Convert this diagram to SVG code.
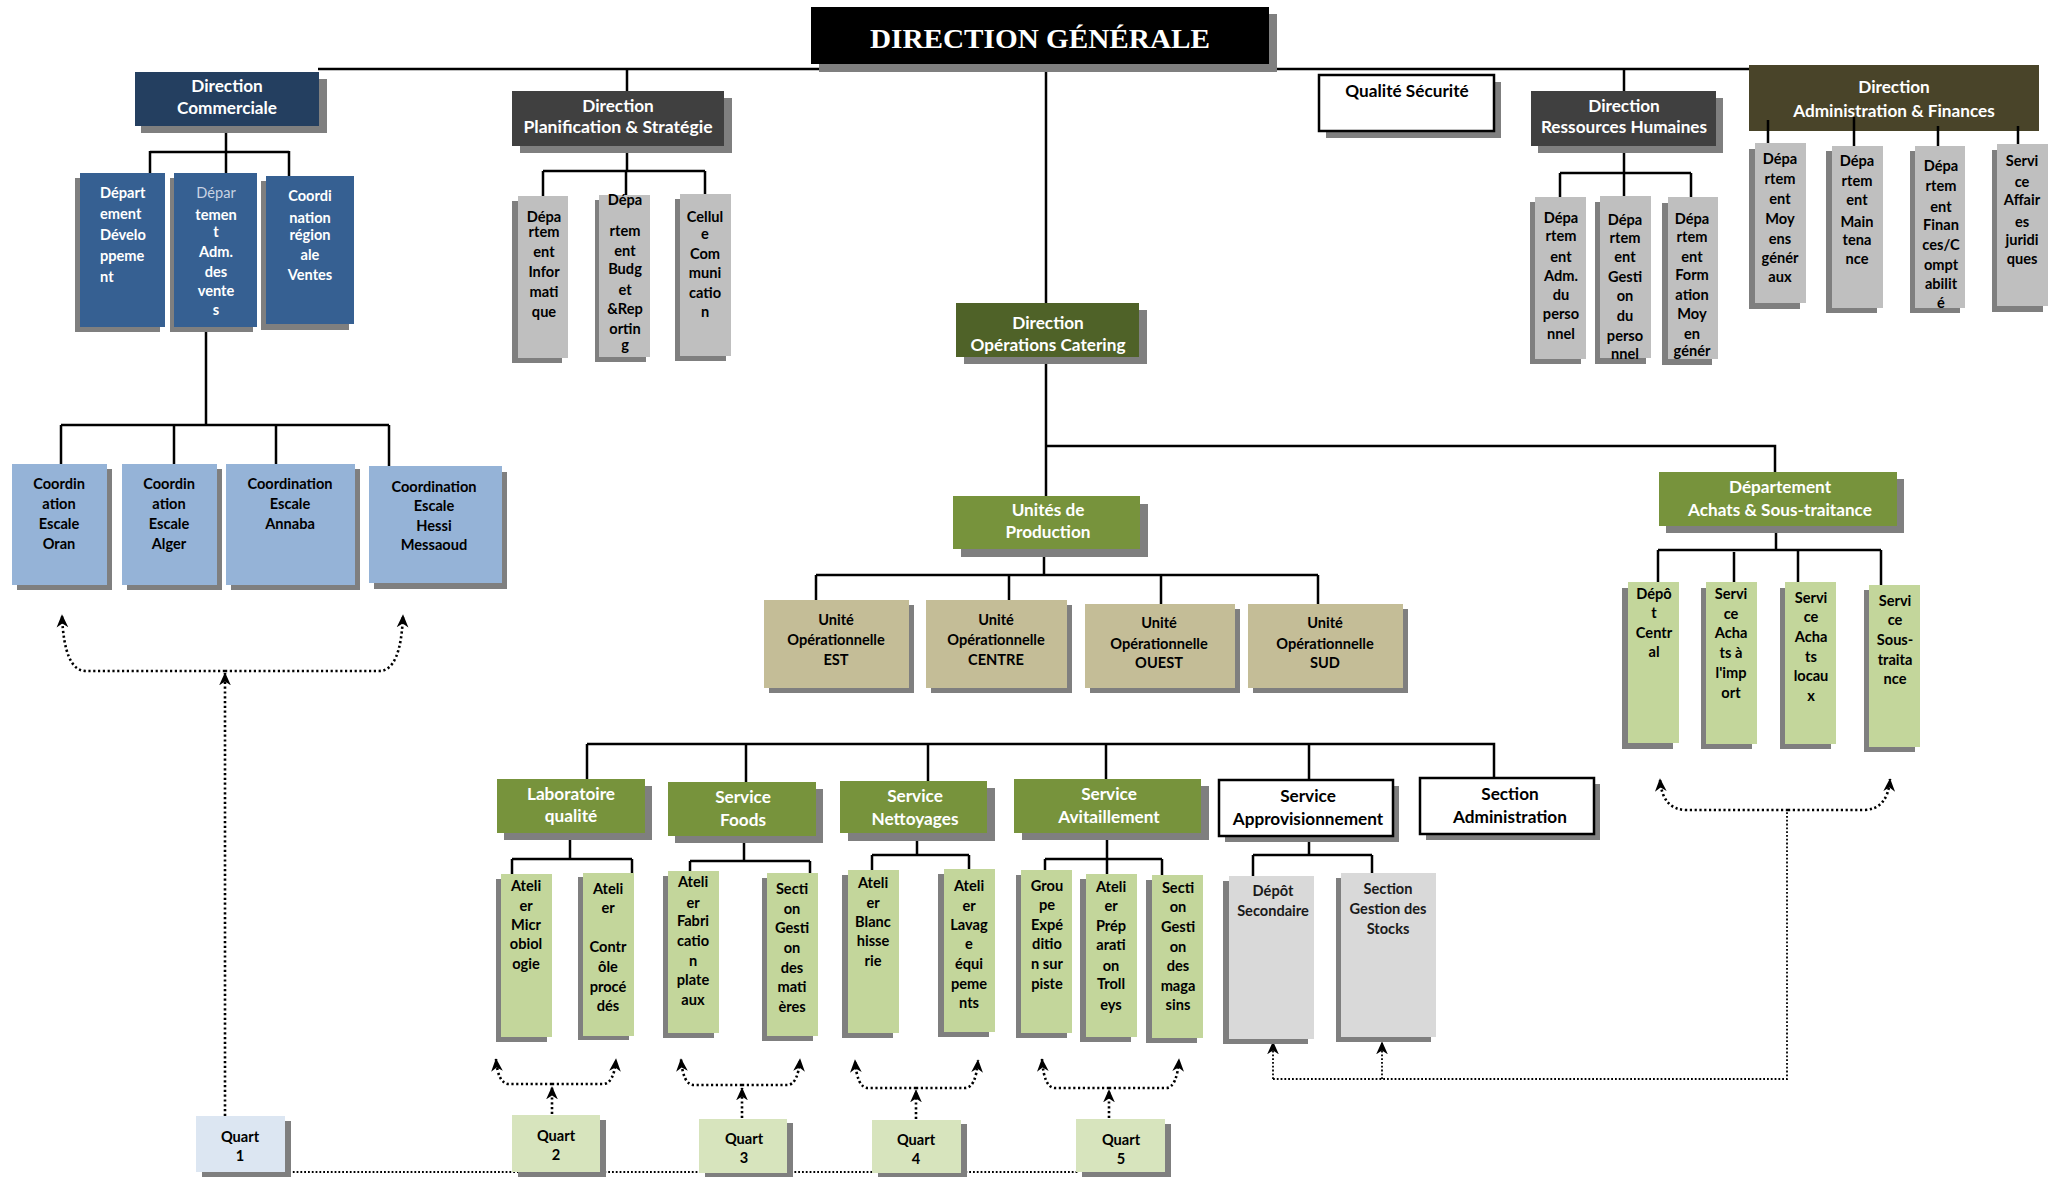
<svg xmlns="http://www.w3.org/2000/svg" width="2055" height="1177" viewBox="0 0 2055 1177">
<defs>
<style>
.ln{fill:none;stroke:#000;stroke-width:2.5}
.dt{fill:none;stroke:#000;stroke-width:2.6;stroke-dasharray:2.2 2.6}
.dt2{fill:none;stroke:#000;stroke-width:1.8;stroke-dasharray:1.8 2}
.sh{fill:#7f7f7f}
.tx{font-family:Lato,'Open Sans','Liberation Sans',sans-serif;font-weight:700;text-anchor:middle}
.f14{font-size:14.6px}
.f17{font-size:17.2px}
.wt{fill:#fff}
.bk{fill:#000}
.navy{fill:#243F60}.blue{fill:#366092}.lblue{fill:#95B3D7}.dgray{fill:#404040}.gray{fill:#BFBFBF}
.olive{fill:#4F6228}.green{fill:#77933C}.tan{fill:#C4BD97}.lgreen{fill:#C3D69B}.lgray{fill:#D9D9D9}
.q1{fill:#DCE6F2}.q{fill:#D7E4BD}.brown{fill:#494429}
.box{fill:#fff;stroke:#000;stroke-width:2.5}
</style>
<marker id="ah" viewBox="0 0 10 10" refX="9.5" refY="5" markerWidth="13" markerHeight="13" markerUnits="userSpaceOnUse" orient="auto">
<path d="M0,0.5 L10,5 L0,9.5 L3,5 Z" fill="#000"/>
</marker>
</defs>
<rect width="2055" height="1177" fill="#fff"/>

<!-- connectors -->
<g id="connectors">
<path class="ln" d="M318,69 H1749"/>
<!-- commerciale -->
<path class="ln" d="M226,126 V151 M150,152 H289 M150,151 V173 M226,151 V173 M289,151 V176"/>
<path class="ln" d="M206,327 V425 M61,425 H389 M61,425 V464 M174,425 V464 M276,425 V464 M389,425 V466"/>
<!-- planification -->
<path class="ln" d="M627,69 V91 M627,146 V171 M543,171 H705 M543,171 V196 M626,171 V195 M705,171 V194"/>
<!-- operations -->
<path class="ln" d="M1046,69 V303 M1046,357 V496 M1046,446 H1775 V472"/>
<path class="ln" d="M1044,549 V575 M816,575 H1318 M816,575 V600 M1009,575 V600 M1161,575 V604 M1318,575 V604"/>
<path class="ln" d="M1776,526 V550 M1658,550 H1881 M1658,550 V582 M1734,552 V582 M1798,550 V582 M1881,550 V585"/>
<!-- RH -->
<path class="ln" d="M1624,69 V91 M1624,146 V173 M1560,173 H1691 M1560,173 V197 M1624,173 V196 M1691,173 V197"/>
<!-- administration & finances -->
<path class="ln" d="M1768,120 V144 M1854,117 V147 M1938,126 V152 M2018,126 V144"/>
<!-- services -->
<path class="ln" d="M587,744 H1494 V778 M587,744 V779 M746,744 V782 M928,744 V781 M1106,744 V779 M1309,744 V780"/>
<path class="ln" d="M570,833 V859 M512,859 H632 M512,859 V874 M632,859 V873"/>
<path class="ln" d="M744,836 V861 M690,861 H810 M690,861 V871 M810,861 V873"/>
<path class="ln" d="M917,833 V855 M872,855 H969 M872,855 V870 M969,855 V869"/>
<path class="ln" d="M1107,833 V859 M1045,859 H1162 M1045,859 V870 M1107,859 V874 M1162,859 V875"/>
<path class="ln" d="M1309,836 V855 M1253,855 H1372 M1253,855 V876 M1372,855 V873"/>

<!-- dotted links: quart 1 to coordinations -->
<path class="dt" d="M225,671 H86 Q64,671 62,615" marker-end="url(#ah)"/>
<path class="dt" d="M225,671 H379 Q401,671 403,615" marker-end="url(#ah)"/>
<path class="dt" d="M225,1116 V673" marker-end="url(#ah)"/>
<!-- quart 2 -->
<path class="dt" d="M552,1084 H509 Q498,1084 496,1059" marker-end="url(#ah)"/>
<path class="dt" d="M552,1084 H603 Q614,1084 616,1059" marker-end="url(#ah)"/>
<path class="dt" d="M552,1114 V1087" marker-end="url(#ah)"/>
<!-- quart 3 -->
<path class="dt" d="M742,1085 H694 Q683,1085 681,1059" marker-end="url(#ah)"/>
<path class="dt" d="M742,1085 H787 Q798,1085 800,1059" marker-end="url(#ah)"/>
<path class="dt" d="M742,1118 V1088" marker-end="url(#ah)"/>
<!-- quart 4 -->
<path class="dt" d="M916,1088 H868 Q857,1088 855,1060" marker-end="url(#ah)"/>
<path class="dt" d="M916,1088 H965 Q976,1088 978,1060" marker-end="url(#ah)"/>
<path class="dt" d="M916,1119 V1090" marker-end="url(#ah)"/>
<!-- quart 5 -->
<path class="dt" d="M1109,1088 H1055 Q1044,1088 1042,1059" marker-end="url(#ah)"/>
<path class="dt" d="M1109,1088 H1166 Q1177,1088 1179,1059" marker-end="url(#ah)"/>
<path class="dt" d="M1109,1118 V1090" marker-end="url(#ah)"/>
<!-- quart line -->
<path class="dt2" d="M289,1172 H1079"/>
<!-- approvisionnement to achats -->
<path class="dt2" d="M1273,1079 H1787 V810"/>
<path class="dt2" d="M1273,1079 V1042" marker-end="url(#ah)"/>
<path class="dt2" d="M1382,1079 V1042" marker-end="url(#ah)"/>
<path class="dt" d="M1788,810 H1687 Q1662,810 1660,779" marker-end="url(#ah)"/>
<path class="dt" d="M1788,810 H1863 Q1888,810 1890,779" marker-end="url(#ah)"/>
</g>

<!-- Direction générale -->
<g id="direction-generale">
<rect class="sh" x="819" y="14" width="458" height="58"/>
<rect x="811" y="7" width="458" height="57" fill="#000"/>
<text x="1040" y="48" font-family="'Liberation Serif',serif" font-weight="700" font-size="28" fill="#fff" text-anchor="middle" textLength="340" lengthAdjust="spacingAndGlyphs">DIRECTION GÉNÉRALE</text>
</g>

<!-- Direction Commerciale -->
<g id="direction-commerciale">
<rect class="sh" x="141" y="79" width="186" height="54"/>
<rect class="navy" x="135" y="72" width="184" height="54"/>
<text class="tx f17 wt"><tspan x="227" y="92">Direction</tspan><tspan x="227" y="114">Commerciale</tspan></text>
</g>
<g id="dept-developpement">
<rect class="sh" x="75" y="178" width="85" height="154"/>
<rect class="blue" x="80" y="173" width="85" height="154"/>
<text class="tx f14 wt" style="text-anchor:start"><tspan x="100" y="198">Départ</tspan><tspan x="100" y="219">ement</tspan><tspan x="100" y="240">Dévelo</tspan><tspan x="100" y="261">ppeme</tspan><tspan x="100" y="282">nt</tspan></text>
</g>
<g id="dept-adm-ventes">
<rect class="sh" x="170" y="178" width="83" height="154"/>
<rect class="blue" x="174" y="173" width="83" height="154"/>
<text class="tx f14 wt"><tspan x="216" y="198" fill="#C9D3E3" font-weight="400">Dépar</tspan><tspan x="216" y="220">temen</tspan><tspan x="216" y="237">t</tspan><tspan x="216" y="257">Adm.</tspan><tspan x="216" y="277">des</tspan><tspan x="216" y="296">vente</tspan><tspan x="216" y="315">s</tspan></text>
</g>
<g id="coord-regionale-ventes">
<rect class="sh" x="261" y="181" width="88" height="149"/>
<rect class="blue" x="266" y="176" width="88" height="148"/>
<text class="tx f14 wt"><tspan x="310" y="201">Coordi</tspan><tspan x="310" y="223">nation</tspan><tspan x="310" y="240">région</tspan><tspan x="310" y="260">ale</tspan><tspan x="310" y="280">Ventes</tspan></text>
</g>

<!-- Coordinations escales -->
<g id="escale-oran">
<rect class="sh" x="17" y="469" width="95" height="121"/>
<rect class="lblue" x="12" y="464" width="95" height="121"/>
<text class="tx f14 bk"><tspan x="59" y="489">Coordin</tspan><tspan x="59" y="509">ation</tspan><tspan x="59" y="529">Escale</tspan><tspan x="59" y="549">Oran</tspan></text>
</g>
<g id="escale-alger">
<rect class="sh" x="127" y="469" width="95" height="121"/>
<rect class="lblue" x="122" y="464" width="95" height="121"/>
<text class="tx f14 bk"><tspan x="169" y="489">Coordin</tspan><tspan x="169" y="509">ation</tspan><tspan x="169" y="529">Escale</tspan><tspan x="169" y="549">Alger</tspan></text>
</g>
<g id="escale-annaba">
<rect class="sh" x="231" y="469" width="129" height="121"/>
<rect class="lblue" x="226" y="464" width="129" height="121"/>
<text class="tx f14 bk"><tspan x="290" y="489">Coordination</tspan><tspan x="290" y="509">Escale</tspan><tspan x="290" y="529">Annaba</tspan></text>
</g>
<g id="escale-hessi-messaoud">
<rect class="sh" x="374" y="472" width="133" height="117"/>
<rect class="lblue" x="369" y="466" width="133" height="117"/>
<text class="tx f14 bk"><tspan x="434" y="492">Coordination</tspan><tspan x="434" y="511">Escale</tspan><tspan x="434" y="531">Hessi</tspan><tspan x="434" y="550">Messaoud</tspan></text>
</g>

<!-- Direction Planification & Stratégie -->
<g id="direction-planification">
<rect class="sh" x="520" y="98" width="212" height="55"/>
<rect class="dgray" x="512" y="91" width="212" height="55"/>
<text class="tx f17 wt"><tspan x="618" y="112">Direction</tspan><tspan x="618" y="133" font-size="17.6">Planification &amp; Stratégie</tspan></text>
</g>
<g id="dept-informatique">
<rect class="sh" x="512" y="201" width="50" height="162"/>
<rect class="gray" x="518" y="196" width="50" height="162"/>
<text class="tx f14 bk"><tspan x="544" y="222">Dépa</tspan><tspan x="544" y="237">rtem</tspan><tspan x="544" y="257">ent</tspan><tspan x="544" y="277">Infor</tspan><tspan x="544" y="297">mati</tspan><tspan x="544" y="317">que</tspan></text>
</g>
<g id="dept-budget">
<rect class="sh" x="595" y="200" width="51" height="162"/>
<rect class="gray" x="599" y="195" width="51" height="162"/>
<text class="tx f14 bk"><tspan x="625" y="205">Dépa</tspan><tspan x="625" y="236">rtem</tspan><tspan x="625" y="256">ent</tspan><tspan x="625" y="274">Budg</tspan><tspan x="625" y="295">et</tspan><tspan x="625" y="314">&amp;Rep</tspan><tspan x="625" y="334">ortin</tspan><tspan x="625" y="350">g</tspan></text>
</g>
<g id="cellule-communication">
<rect class="sh" x="675" y="199" width="51" height="162"/>
<rect class="gray" x="680" y="194" width="51" height="162"/>
<text class="tx f14 bk"><tspan x="705" y="222">Cellul</tspan><tspan x="705" y="239">e</tspan><tspan x="705" y="259">Com</tspan><tspan x="705" y="278">muni</tspan><tspan x="705" y="298">catio</tspan><tspan x="705" y="317">n</tspan></text>
</g>

<!-- Direction Opérations Catering -->
<g id="direction-operations">
<rect class="sh" x="964" y="310" width="183" height="54"/>
<rect class="olive" x="956" y="303" width="183" height="54"/>
<text class="tx f17 wt"><tspan x="1048" y="329">Direction</tspan><tspan x="1048" y="351">Opérations Catering</tspan></text>
</g>
<g id="unites-production">
<rect class="sh" x="961" y="504" width="187" height="53"/>
<rect class="green" x="953" y="496" width="187" height="53"/>
<text class="tx f17 wt"><tspan x="1048" y="516">Unités de</tspan><tspan x="1048" y="538">Production</tspan></text>
</g>
<g id="uo-est">
<rect class="sh" x="769" y="605" width="145" height="88"/>
<rect class="tan" x="764" y="600" width="145" height="88"/>
<text class="tx f14 bk"><tspan x="836" y="625">Unité</tspan><tspan x="836" y="645">Opérationnelle</tspan><tspan x="836" y="665">EST</tspan></text>
</g>
<g id="uo-centre">
<rect class="sh" x="931" y="605" width="141" height="88"/>
<rect class="tan" x="926" y="600" width="141" height="88"/>
<text class="tx f14 bk"><tspan x="996" y="625">Unité</tspan><tspan x="996" y="645">Opérationnelle</tspan><tspan x="996" y="665">CENTRE</tspan></text>
</g>
<g id="uo-ouest">
<rect class="sh" x="1090" y="609" width="150" height="84"/>
<rect class="tan" x="1085" y="604" width="150" height="84"/>
<text class="tx f14 bk"><tspan x="1159" y="628">Unité</tspan><tspan x="1159" y="649">Opérationnelle</tspan><tspan x="1159" y="668">OUEST</tspan></text>
</g>
<g id="uo-sud">
<rect class="sh" x="1253" y="609" width="155" height="84"/>
<rect class="tan" x="1248" y="604" width="155" height="84"/>
<text class="tx f14 bk"><tspan x="1325" y="628">Unité</tspan><tspan x="1325" y="649">Opérationnelle</tspan><tspan x="1325" y="668">SUD</tspan></text>
</g>

<!-- Département Achats & Sous-traitance -->
<g id="dept-achats">
<rect class="sh" x="1666" y="479" width="238" height="54"/>
<rect class="green" x="1659" y="472" width="238" height="54"/>
<text class="tx f17 wt"><tspan x="1780" y="493">Département</tspan><tspan x="1780" y="516">Achats &amp; Sous-traitance</tspan></text>
</g>
<g id="depot-central">
<rect class="sh" x="1622" y="588" width="51" height="161"/>
<rect class="lgreen" x="1628" y="582" width="51" height="161"/>
<text class="tx f14 bk"><tspan x="1654" y="599">Dépô</tspan><tspan x="1654" y="618">t</tspan><tspan x="1654" y="638">Centr</tspan><tspan x="1654" y="657">al</tspan></text>
</g>
<g id="achats-import">
<rect class="sh" x="1701" y="588" width="51" height="161"/>
<rect class="lgreen" x="1706" y="582" width="51" height="162"/>
<text class="tx f14 bk"><tspan x="1731" y="599">Servi</tspan><tspan x="1731" y="619">ce</tspan><tspan x="1731" y="638">Acha</tspan><tspan x="1731" y="658">ts à</tspan><tspan x="1731" y="678">l'imp</tspan><tspan x="1731" y="698">ort</tspan></text>
</g>
<g id="achats-locaux">
<rect class="sh" x="1780" y="588" width="51" height="161"/>
<rect class="lgreen" x="1785" y="582" width="51" height="162"/>
<text class="tx f14 bk"><tspan x="1811" y="603">Servi</tspan><tspan x="1811" y="622">ce</tspan><tspan x="1811" y="642">Acha</tspan><tspan x="1811" y="662">ts</tspan><tspan x="1811" y="681">locau</tspan><tspan x="1811" y="701">x</tspan></text>
</g>
<g id="sous-traitance">
<rect class="sh" x="1864" y="590" width="51" height="162"/>
<rect class="lgreen" x="1869" y="585" width="51" height="162"/>
<text class="tx f14 bk"><tspan x="1895" y="606">Servi</tspan><tspan x="1895" y="625">ce</tspan><tspan x="1895" y="645">Sous-</tspan><tspan x="1895" y="665">traita</tspan><tspan x="1895" y="684">nce</tspan></text>
</g>

<!-- Qualité Sécurité -->
<g id="qualite-securite">
<rect class="sh" x="1326" y="82" width="175" height="56"/>
<rect class="box" x="1319" y="75" width="175" height="56"/>
<text class="tx f17 bk" x="1407" y="97">Qualité Sécurité</text>
</g>

<!-- Direction Ressources Humaines -->
<g id="direction-rh">
<rect class="sh" x="1538" y="98" width="185" height="55"/>
<rect class="dgray" x="1531" y="91" width="185" height="55"/>
<text class="tx f17 wt"><tspan x="1624" y="112">Direction</tspan><tspan x="1624" y="133">Ressources Humaines</tspan></text>
</g>
<g id="dept-adm-personnel">
<rect class="sh" x="1530" y="202" width="51" height="162"/>
<rect class="gray" x="1535" y="197" width="51" height="162"/>
<text class="tx f14 bk"><tspan x="1561" y="223">Dépa</tspan><tspan x="1561" y="241">rtem</tspan><tspan x="1561" y="262">ent</tspan><tspan x="1561" y="281">Adm.</tspan><tspan x="1561" y="300">du</tspan><tspan x="1561" y="319">perso</tspan><tspan x="1561" y="339">nnel</tspan></text>
</g>
<g id="dept-gestion-personnel">
<rect class="sh" x="1595" y="202" width="51" height="162"/>
<rect class="gray" x="1600" y="196" width="51" height="162"/>
<text class="tx f14 bk"><tspan x="1625" y="225">Dépa</tspan><tspan x="1625" y="243">rtem</tspan><tspan x="1625" y="262">ent</tspan><tspan x="1625" y="282">Gesti</tspan><tspan x="1625" y="301">on</tspan><tspan x="1625" y="321">du</tspan><tspan x="1625" y="341">perso</tspan><tspan x="1625" y="359">nnel</tspan></text>
</g>
<g id="dept-formation">
<rect class="sh" x="1662" y="203" width="50" height="162"/>
<rect class="gray" x="1668" y="197" width="50" height="162"/>
<text class="tx f14 bk"><tspan x="1692" y="224">Dépa</tspan><tspan x="1692" y="242">rtem</tspan><tspan x="1692" y="262">ent</tspan><tspan x="1692" y="280">Form</tspan><tspan x="1692" y="300">ation</tspan><tspan x="1692" y="319">Moy</tspan><tspan x="1692" y="339">en</tspan><tspan x="1692" y="356">génér</tspan></text>
</g>

<!-- Direction Administration & Finances -->
<g id="direction-af">
<rect class="brown" x="1749" y="65" width="290" height="66"/>
<text class="tx f17 wt"><tspan x="1894" y="93">Direction</tspan><tspan x="1894" y="117">Administration &amp; Finances</tspan></text>
<path class="ln" d="M1768,120 V131 M1854,117 V131 M1938,126 V131 M2018,126 V131"/>
</g>
<g id="dept-moyens-generaux">
<rect class="sh" x="1749" y="149" width="51" height="160"/>
<rect class="gray" x="1755" y="143" width="51" height="160"/>
<text class="tx f14 bk"><tspan x="1780" y="164">Dépa</tspan><tspan x="1780" y="184">rtem</tspan><tspan x="1780" y="204">ent</tspan><tspan x="1780" y="224">Moy</tspan><tspan x="1780" y="244">ens</tspan><tspan x="1780" y="263">génér</tspan><tspan x="1780" y="282">aux</tspan></text>
</g>
<g id="dept-maintenance">
<rect class="sh" x="1826" y="151" width="51" height="162"/>
<rect class="gray" x="1832" y="146" width="51" height="162"/>
<text class="tx f14 bk"><tspan x="1857" y="166">Dépa</tspan><tspan x="1857" y="186">rtem</tspan><tspan x="1857" y="205">ent</tspan><tspan x="1857" y="227">Main</tspan><tspan x="1857" y="245">tena</tspan><tspan x="1857" y="264">nce</tspan></text>
</g>
<g id="dept-finances">
<rect class="sh" x="1910" y="151" width="50" height="162"/>
<rect class="gray" x="1915" y="146" width="50" height="162"/>
<text class="tx f14 bk"><tspan x="1941" y="171">Dépa</tspan><tspan x="1941" y="191">rtem</tspan><tspan x="1941" y="212">ent</tspan><tspan x="1941" y="230">Finan</tspan><tspan x="1941" y="250">ces/C</tspan><tspan x="1941" y="270">ompt</tspan><tspan x="1941" y="289">abilit</tspan><tspan x="1941" y="308">é</tspan></text>
</g>
<g id="service-juridique">
<rect class="sh" x="1992" y="150" width="51" height="162"/>
<rect class="gray" x="1997" y="144" width="51" height="162"/>
<text class="tx f14 bk"><tspan x="2022" y="166">Servi</tspan><tspan x="2022" y="187">ce</tspan><tspan x="2022" y="205">Affair</tspan><tspan x="2022" y="227">es</tspan><tspan x="2022" y="245">juridi</tspan><tspan x="2022" y="264">ques</tspan></text>
</g>

<!-- Services -->
<g id="labo-qualite">
<rect class="sh" x="504" y="786" width="148" height="54"/>
<rect class="green" x="497" y="779" width="148" height="54"/>
<text class="tx f17 wt"><tspan x="571" y="800">Laboratoire</tspan><tspan x="571" y="822">qualité</tspan></text>
</g>
<g id="atelier-microbiologie">
<rect class="sh" x="496" y="879" width="51" height="163"/>
<rect class="lgreen" x="501" y="874" width="51" height="163"/>
<text class="tx f14 bk"><tspan x="526" y="891">Ateli</tspan><tspan x="526" y="911">er</tspan><tspan x="526" y="930">Micr</tspan><tspan x="526" y="949">obiol</tspan><tspan x="526" y="969">ogie</tspan></text>
</g>
<g id="atelier-controle">
<rect class="sh" x="578" y="877" width="51" height="163"/>
<rect class="lgreen" x="583" y="873" width="51" height="163"/>
<text class="tx f14 bk"><tspan x="608" y="894">Ateli</tspan><tspan x="608" y="913">er</tspan><tspan x="608" y="952">Contr</tspan><tspan x="608" y="972">ôle</tspan><tspan x="608" y="992">procé</tspan><tspan x="608" y="1011">dés</tspan></text>
</g>

<g id="service-foods">
<rect class="sh" x="675" y="789" width="148" height="54"/>
<rect class="green" x="668" y="782" width="148" height="54"/>
<text class="tx f17 wt"><tspan x="743" y="803">Service</tspan><tspan x="743" y="826">Foods</tspan></text>
</g>
<g id="atelier-plateaux">
<rect class="sh" x="663" y="876" width="51" height="162"/>
<rect class="lgreen" x="668" y="871" width="51" height="162"/>
<text class="tx f14 bk"><tspan x="693" y="887">Ateli</tspan><tspan x="693" y="908">er</tspan><tspan x="693" y="926">Fabri</tspan><tspan x="693" y="946">catio</tspan><tspan x="693" y="966">n</tspan><tspan x="693" y="985">plate</tspan><tspan x="693" y="1005">aux</tspan></text>
</g>
<g id="section-matieres">
<rect class="sh" x="762" y="878" width="51" height="163"/>
<rect class="lgreen" x="767" y="873" width="51" height="163"/>
<text class="tx f14 bk"><tspan x="792" y="894">Secti</tspan><tspan x="792" y="914">on</tspan><tspan x="792" y="933">Gesti</tspan><tspan x="792" y="953">on</tspan><tspan x="792" y="973">des</tspan><tspan x="792" y="992">mati</tspan><tspan x="792" y="1012">ères</tspan></text>
</g>

<g id="service-nettoyages">
<rect class="sh" x="848" y="788" width="147" height="53"/>
<rect class="green" x="840" y="781" width="147" height="52"/>
<text class="tx f17 wt"><tspan x="915" y="802">Service</tspan><tspan x="915" y="825">Nettoyages</tspan></text>
</g>
<g id="atelier-blanchisserie">
<rect class="sh" x="842" y="875" width="51" height="163"/>
<rect class="lgreen" x="848" y="870" width="51" height="163"/>
<text class="tx f14 bk"><tspan x="873" y="888">Ateli</tspan><tspan x="873" y="908">er</tspan><tspan x="873" y="927">Blanc</tspan><tspan x="873" y="946">hisse</tspan><tspan x="873" y="966">rie</tspan></text>
</g>
<g id="atelier-lavage">
<rect class="sh" x="938" y="874" width="51" height="163"/>
<rect class="lgreen" x="944" y="869" width="51" height="163"/>
<text class="tx f14 bk"><tspan x="969" y="891">Ateli</tspan><tspan x="969" y="911">er</tspan><tspan x="969" y="930">Lavag</tspan><tspan x="969" y="949">e</tspan><tspan x="969" y="969">équi</tspan><tspan x="969" y="989">peme</tspan><tspan x="969" y="1008">nts</tspan></text>
</g>

<g id="service-avitaillement">
<rect class="sh" x="1022" y="786" width="187" height="54"/>
<rect class="green" x="1014" y="779" width="187" height="54"/>
<text class="tx f17 wt"><tspan x="1109" y="800">Service</tspan><tspan x="1109" y="823">Avitaillement</tspan></text>
</g>
<g id="groupe-expedition">
<rect class="sh" x="1016" y="875" width="51" height="163"/>
<rect class="lgreen" x="1021" y="870" width="51" height="163"/>
<text class="tx f14 bk"><tspan x="1047" y="891">Grou</tspan><tspan x="1047" y="910">pe</tspan><tspan x="1047" y="930">Expé</tspan><tspan x="1047" y="949">ditio</tspan><tspan x="1047" y="969">n sur</tspan><tspan x="1047" y="989">piste</tspan></text>
</g>
<g id="atelier-trolleys">
<rect class="sh" x="1080" y="879" width="51" height="163"/>
<rect class="lgreen" x="1086" y="874" width="51" height="163"/>
<text class="tx f14 bk"><tspan x="1111" y="892">Ateli</tspan><tspan x="1111" y="911">er</tspan><tspan x="1111" y="931">Prép</tspan><tspan x="1111" y="950">arati</tspan><tspan x="1111" y="971">on</tspan><tspan x="1111" y="989">Troll</tspan><tspan x="1111" y="1010">eys</tspan></text>
</g>
<g id="section-magasins">
<rect class="sh" x="1146" y="880" width="51" height="163"/>
<rect class="lgreen" x="1152" y="875" width="51" height="163"/>
<text class="tx f14 bk"><tspan x="1178" y="893">Secti</tspan><tspan x="1178" y="912">on</tspan><tspan x="1178" y="932">Gesti</tspan><tspan x="1178" y="952">on</tspan><tspan x="1178" y="971">des</tspan><tspan x="1178" y="991">maga</tspan><tspan x="1178" y="1010">sins</tspan></text>
</g>

<g id="service-approvisionnement">
<rect class="sh" x="1225" y="786" width="174" height="56"/>
<rect class="box" x="1219" y="780" width="174" height="56"/>
<text class="tx f17 bk"><tspan x="1308" y="802">Service</tspan><tspan x="1308" y="825">Approvisionnement</tspan></text>
</g>
<g id="depot-secondaire">
<rect class="sh" x="1223" y="881" width="85" height="163"/>
<rect class="lgray" x="1229" y="876" width="85" height="163"/>
<text class="tx f14" fill="#1a1a1a"><tspan x="1273" y="896">Dépôt</tspan><tspan x="1273" y="916">Secondaire</tspan></text>
</g>
<g id="section-stocks">
<rect class="sh" x="1336" y="878" width="95" height="164"/>
<rect class="lgray" x="1341" y="873" width="95" height="164"/>
<text class="tx f14" fill="#1a1a1a"><tspan x="1388" y="894">Section</tspan><tspan x="1388" y="914">Gestion des</tspan><tspan x="1388" y="934">Stocks</tspan></text>
</g>

<g id="section-administration">
<rect class="sh" x="1426" y="784" width="174" height="56"/>
<rect class="box" x="1420" y="778" width="174" height="56"/>
<text class="tx f17 bk"><tspan x="1510" y="800">Section</tspan><tspan x="1510" y="823">Administration</tspan></text>
</g>

<!-- Quarts -->
<g id="quart-1">
<rect class="sh" x="202" y="1121" width="89" height="56"/>
<rect class="q1" x="196" y="1116" width="89" height="56"/>
<text class="tx f14 bk"><tspan x="240" y="1142">Quart</tspan><tspan x="240" y="1161">1</tspan></text>
</g>
<g id="quart-2">
<rect class="sh" x="518" y="1120" width="88" height="57"/>
<rect class="q" x="512" y="1115" width="88" height="57"/>
<text class="tx f14 bk"><tspan x="556" y="1141">Quart</tspan><tspan x="556" y="1160">2</tspan></text>
</g>
<g id="quart-3">
<rect class="sh" x="705" y="1123" width="88" height="54"/>
<rect class="q" x="699" y="1119" width="88" height="54"/>
<text class="tx f14 bk"><tspan x="744" y="1144">Quart</tspan><tspan x="744" y="1163">3</tspan></text>
</g>
<g id="quart-4">
<rect class="sh" x="878" y="1124" width="89" height="53"/>
<rect class="q" x="872" y="1120" width="89" height="53"/>
<text class="tx f14 bk"><tspan x="916" y="1145">Quart</tspan><tspan x="916" y="1164">4</tspan></text>
</g>
<g id="quart-5">
<rect class="sh" x="1082" y="1124" width="89" height="53"/>
<rect class="q" x="1076" y="1119" width="89" height="53"/>
<text class="tx f14 bk"><tspan x="1121" y="1145">Quart</tspan><tspan x="1121" y="1164">5</tspan></text>
</g>
</svg>
